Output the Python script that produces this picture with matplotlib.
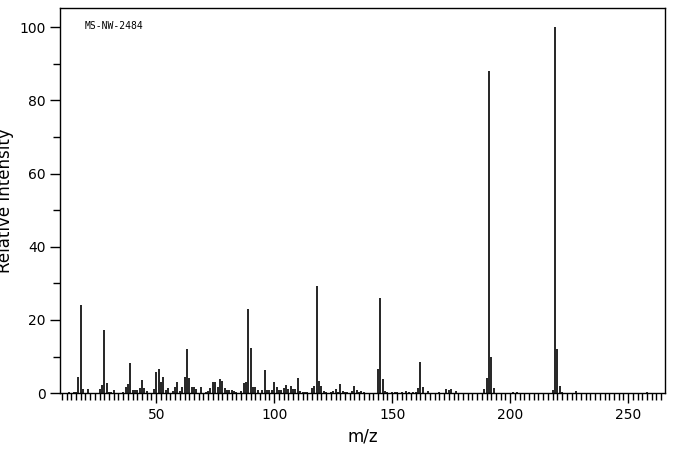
import matplotlib

matplotlib.use("Agg")
import matplotlib.pyplot as plt
from matplotlib.ticker import MultipleLocator

# peaks (m/z, relative intensity)
mz = [13, 15, 16, 17, 18, 19, 21, 26, 27, 28, 29, 30, 31, 32, 36, 37, 38, 39, 40,
      41, 42, 43, 44, 45, 46, 49, 50, 51, 52, 53, 54, 55, 57, 58, 59, 60, 61, 62,
      63, 64, 65, 66, 67, 69, 71, 72, 73, 74, 75, 76, 77, 78, 79, 80, 81, 82, 83,
      84, 86, 87, 88, 89, 90, 91, 92, 93, 95, 96, 97, 98, 99, 100, 101, 102,
      103, 104, 105, 106, 107, 108, 109, 110, 111, 112, 113, 114, 116, 117, 118,
      119, 120, 121, 122, 124, 125, 126, 127, 128, 129, 130, 131, 133, 134, 135,
      136, 137, 138, 144, 145, 146, 147, 148, 150, 151, 152, 154, 156, 157, 159,
      160, 161, 162, 163, 165, 170, 173, 174, 175, 177, 189, 190, 191, 192, 193,
      201, 203, 218, 219, 220, 221, 222, 228, 258]
intensity = [0.3, 0.3, 0.3, 4.5, 24.0, 1.0, 1.0, 1.0, 2.3, 17.2, 2.7, 0.3, 0.3, 0.8,
             0.3, 1.6, 2.6, 8.2, 0.8, 0.8, 0.8, 1.3, 3.6, 1.5, 0.5, 1.2, 5.8, 6.6,
             3.0, 4.3, 0.8, 1.5, 0.6, 1.6, 3.0, 0.5, 1.6, 4.5, 12.0, 4.0, 1.6, 1.6,
             1.1, 1.6, 0.3, 0.6, 1.5, 3.0, 3.0, 1.6, 3.9, 3.2, 1.5, 0.8, 0.8, 0.8,
             0.5, 0.3, 0.5, 2.8, 3.0, 23.0, 12.3, 1.6, 1.8, 0.8, 0.8, 6.3, 0.8, 0.8,
             0.8, 3.0, 1.8, 0.8, 0.8, 1.5, 2.1, 1.0, 2.0, 1.0, 1.0, 4.0, 0.5, 0.3,
             0.3, 0.3, 1.5, 2.0, 29.4, 3.4, 2.0, 0.6, 0.3, 0.3, 0.6, 1.2, 0.3, 2.5,
             0.6, 0.3, 0.3, 0.6, 2.0, 0.8, 0.3, 0.6, 0.3, 6.6, 26.0, 3.8, 0.6, 0.3,
             0.3, 0.3, 0.3, 0.3, 0.6, 0.3, 0.3, 0.3, 1.5, 8.5, 1.8, 0.6, 0.3, 1.2,
             0.8, 1.0, 0.6, 1.1, 4.2, 88.0, 10.0, 1.4, 0.3, 0.3, 0.8, 100.0, 12.0,
             2.0, 0.3, 0.6, 0.3]

fig = plt.figure(figsize=(6.76, 4.55), dpi=100)
ax = fig.add_axes([0.089, 0.136, 0.895, 0.846])

ax.vlines(mz, 0, intensity, color="black", linewidth=1.2)

ax.set_xlim(9.3, 265.7)
ax.set_ylim(0, 105.2)
ax.xaxis.set_major_locator(MultipleLocator(50))
ax.xaxis.set_minor_locator(MultipleLocator(2))
ax.yaxis.set_major_locator(MultipleLocator(20))
ax.yaxis.set_minor_locator(MultipleLocator(10))
ax.tick_params(which="major", direction="out", length=7, width=1, labelsize=10)
ax.tick_params(which="minor", direction="out", length=5, width=1)
for s in ax.spines.values():
    s.set_linewidth(1)

ax.set_xlabel("m/z", fontsize=12)
ax.set_ylabel("Relative Intensity", fontsize=12)
ax.text(0.04, 0.945, "MS-NW-2484", transform=ax.transAxes, fontsize=7,
        family="DejaVu Sans Mono")

fig.savefig("out.png", dpi=100)
